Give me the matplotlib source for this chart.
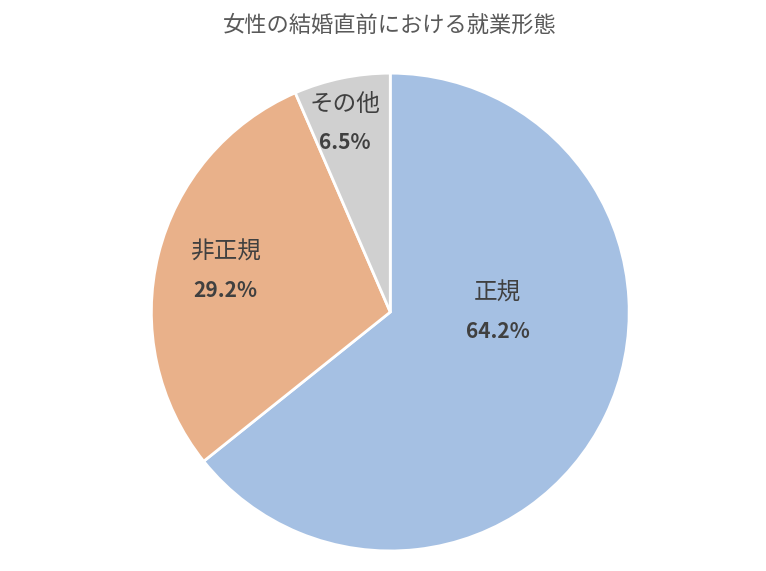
import matplotlib
matplotlib.use("Agg")
import matplotlib.pyplot as plt

plt.rcParams['font.family'] = ['Noto Sans CJK JP', 'DejaVu Sans']

categories = ["正規", "非正規", "その他"]
values = [64.2, 29.2, 6.5]
colors = ["#A5C0E3", "#E9B18A", "#D0D0D0"]
label_pos = [(0.45, 0.0), (-0.69, 0.17), (-0.19, 0.79)]

fig = plt.figure(figsize=(7.66, 5.71), dpi=100)
ax = fig.add_axes([0.196, 0.033, 0.627, 0.841])
ax.pie(values, colors=colors, startangle=90, counterclock=False,
       wedgeprops=dict(edgecolor="white", linewidth=2))
ax.set_xlim(-1.005, 1.005)
ax.set_ylim(-1.005, 1.005)
ax.set_aspect('equal')
for (x, y), c, v in zip(label_pos, categories, values):
    ax.text(x, y + 0.08, c, ha='center', va='center', fontsize=17, color='#404040')
    ax.text(x, y - 0.08, f"{v:.1f}%", ha='center', va='center', fontsize=15,
            fontweight='bold', color='#404040')
fig.text(0.509, 0.955, "女性の結婚直前における就業形態", ha='center', va='center',
         fontsize=16, color='#595959')
fig.savefig("out.png", dpi=100)
